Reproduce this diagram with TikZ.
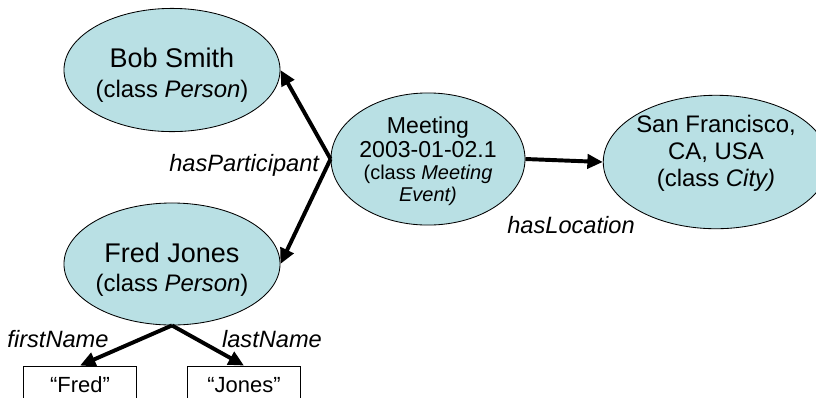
\documentclass[tikz,border=0pt]{standalone}
\usepackage{fontspec}
\setmainfont{Liberation Sans}
\usetikzlibrary{arrows.meta,shapes.geometric}
\definecolor{instanceCyan}{RGB}{185,224,228}

\begin{document}
\begin{tikzpicture}[x=0.025cm,y=-0.025cm,
  instance/.style={ellipse,draw=black,line width=0.6pt,fill=instanceCyan,inner sep=0pt,align=center},
  literal/.style={rectangle,draw=black,line width=0.6pt,fill=white,minimum width=2.83cm,minimum height=0.95cm,font=\fontsize{15.6}{18}\selectfont},
  relation/.style={line width=2.8pt,-{Triangle[length=11pt,width=10pt]}},
  propLabel/.style={font=\fontsize{16.8}{20}\selectfont\itshape}]
\clip (0,0) rectangle (816,397);
\node[instance,minimum width=4.85cm,minimum height=3.08cm,font=\fontsize{17}{21.3}\selectfont] (bobSmith) at (172,70)
  {\rule{0pt}{21pt}{\fontsize{19.2}{21.3}\selectfont Bob Smith}\\(class \textit{Person})};
\node[instance,minimum width=4.85cm,minimum height=3.05cm,font=\fontsize{17}{21.3}\selectfont] (fredJones) at (172,264)
  {\rule{0pt}{22pt}{\fontsize{19.2}{21.3}\selectfont Fred Jones}\\(class \textit{Person})};
\node[instance,minimum width=4.8cm,minimum height=2.95cm,font=\fontsize{14.2}{15.5}\selectfont] (meeting) at (428,159)
  {\rule{0pt}{15pt}{\fontsize{16.4}{18.5}\selectfont Meeting}\\[2pt]{\fontsize{16.4}{18.5}\selectfont 2003-01-02.1}\\(class \textit{Meeting}\\\textit{Event)}};
\node[instance,minimum width=4.5cm,minimum height=2.95cm,font=\fontsize{17}{19.4}\selectfont] (sanFrancisco) at (716,162)
  {San Francisco,\\CA, USA\\(class \textit{City)}\rule[-16pt]{0pt}{1pt}};
\node[literal] (fredBox) at (80,385) {“Fred”};
\node[literal] (jonesBox) at (244,385) {“Jones”};
\draw[relation] (meeting.west) -- (bobSmith.east);
\draw[relation] (meeting.west) -- (fredJones.east);
\draw[relation] (meeting.east) -- (sanFrancisco.west);
\draw[relation] (fredJones.south) -- (fredBox.north);
\draw[relation] (fredJones.south) -- (jonesBox.north);
\node[propLabel,anchor=east] (participantLabel) at (324,165) {hasParticipant};
\node[propLabel] (locationLabel) at (571,225) {hasLocation};
\node[propLabel] (firstLabel) at (58,339) {firstName};
\node[propLabel] (lastLabel) at (272,339) {lastName};
\end{tikzpicture}
\end{document}
